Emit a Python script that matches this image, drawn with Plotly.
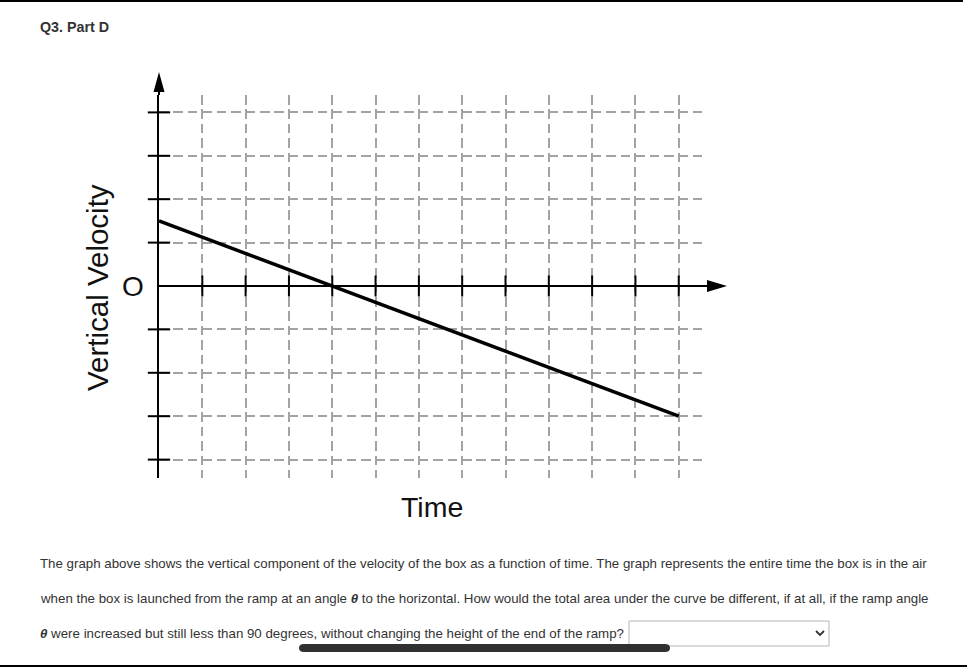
import plotly.graph_objects as go

W, H = 967, 667

# velocity vs time (grid units)
time = [0, 12]
velocity = [1.5, -3]

x_ticks = list(range(1, 13))
y_ticks = [-4, -3, -2, -1, 1, 2, 3, 4]

question = [
    "The graph above shows the vertical component of the velocity of the box as a function of time. The graph represents the entire time the box is in the air",
    "when the box is launched from the ramp at an angle <i><b>θ</b></i> to the horizontal. How would the total area under the curve be different, if at all, if the ramp angle",
    "<i><b>θ</b></i> were increased but still less than 90 degrees, without changing the height of the end of the ramp?",
]


def px(x):
    return x / W


def py(y):
    return 1 - y / H


FONT = "Liberation Sans, Arial, sans-serif"
GRID = "#a3a3a3"
X_AX = [159, 703]   # plot area, pixels
Y_AX = [95, 478]
y_zero = 286

fig = go.Figure()

fig.add_trace(go.Scatter(x=time, y=velocity, mode="lines",
                         line=dict(color="black", width=3.5), hoverinfo="skip"))

# tick marks crossing the axes
fig.add_trace(go.Scatter(x=x_ticks, y=[0] * len(x_ticks), mode="markers", cliponaxis=False,
                         marker=dict(symbol="line-ns", size=15, line=dict(color="black", width=2)),
                         hoverinfo="skip"))
fig.add_trace(go.Scatter(x=[0] * len(y_ticks), y=y_ticks, mode="markers", cliponaxis=False,
                         marker=dict(symbol="line-ew", size=16, line=dict(color="black", width=2)),
                         hoverinfo="skip"))

fig.update_xaxes(domain=[px(X_AX[0]), px(X_AX[1])], range=[0, 12.56], dtick=1, tick0=0,
                 showgrid=True, gridcolor=GRID, gridwidth=1.7, griddash="9.5px,4.93px",
                 zeroline=False, showline=False, showticklabels=False, ticks="")
fig.update_yaxes(domain=[py(Y_AX[1]), py(Y_AX[0])], range=[-4.424, 4.401], dtick=1, tick0=0,
                 showgrid=True, gridcolor=GRID, gridwidth=1.7, griddash="9.5px,4.93px",
                 zeroline=True, zerolinecolor="black", zerolinewidth=2,
                 showline=True, linecolor="black", linewidth=2, mirror=False,
                 showticklabels=False, ticks="")

# arrowheads (paper refs so they are not clipped)
fig.add_shape(type="path", xref="paper", yref="paper", xsizemode="pixel", ysizemode="pixel",
              xanchor=px(X_AX[1]), yanchor=py(y_zero),
              path="M 0,1 L 4,1 L 4,6 L 24,0 L 4,-6 L 4,-1 L 0,-1 Z",
              fillcolor="black", line=dict(width=0))
fig.add_shape(type="path", xref="paper", yref="paper", xsizemode="pixel", ysizemode="pixel",
              xanchor=px(X_AX[0]), yanchor=py(Y_AX[0]),
              path="M -1,0 L -1,3 L -5.5,3 L 0,23 L 5.5,3 L 1,3 L 1,0 Z",
              fillcolor="black", line=dict(width=0))

# page chrome
fig.add_shape(type="rect", xref="paper", yref="paper", x0=0, x1=px(963), y0=py(0), y1=py(2),
              fillcolor="black", line=dict(width=0))
fig.add_shape(type="rect", xref="paper", yref="paper", x0=0, x1=1, y0=py(665), y1=py(667),
              fillcolor="black", line=dict(width=0))
fig.add_shape(type="rect", xref="paper", yref="paper", x0=px(629), x1=px(829), y0=py(646), y1=py(621),
              fillcolor="white", line=dict(color="#b5b5b5", width=1))
fig.add_shape(type="path", xref="paper", yref="paper",
              path=f"M {px(816)},{py(631)} L {px(820)},{py(635)} L {px(824)},{py(631)}",
              line=dict(color="#333", width=1.8))
fig.add_shape(type="path", xref="paper", yref="paper",
              path=(f"M {px(304)},{py(644)} L {px(665)},{py(644)} "
                    f"Q {px(670)},{py(644)} {px(670)},{py(648)} Q {px(670)},{py(652)} {px(665)},{py(652)} "
                    f"L {px(304)},{py(652)} Q {px(299)},{py(652)} {px(299)},{py(648)} "
                    f"Q {px(299)},{py(644)} {px(304)},{py(644)} Z"),
              fillcolor="#303030", line=dict(width=0))

ann = [
    dict(text="<b>Q3. Part D</b>", x=px(38), y=py(27), xanchor="left", yanchor="middle",
         font=dict(size=14.3, color="#333")),
    dict(text="Vertical Velocity", x=px(97), y=py(288), textangle=-90, xanchor="center",
         yanchor="middle", font=dict(size=29.5, color="#111")),
    dict(text="O", x=px(133), y=py(286), xanchor="center", yanchor="middle",
         font=dict(size=28, color="#111")),
    dict(text="Time", x=px(432), y=py(507), xanchor="center", yanchor="middle",
         font=dict(size=28.5, color="#111")),
]
for i, line in enumerate(question):
    ann.append(dict(text=line, x=px(38), y=py(563 + 35 * i), xanchor="left", yanchor="middle",
                    font=dict(size=13.3, color="#333")))
for a in ann:
    a.update(xref="paper", yref="paper", showarrow=False)

fig.update_layout(width=W, height=H, margin=dict(l=0, r=0, t=0, b=0),
                  paper_bgcolor="white", plot_bgcolor="white", showlegend=False,
                  font=dict(family=FONT), annotations=ann)

# drop the default page margin so the figure sits at the window origin
fig.write_html("out.html", config={"displayModeBar": False},
               post_script="document.body.style.margin='0';")
